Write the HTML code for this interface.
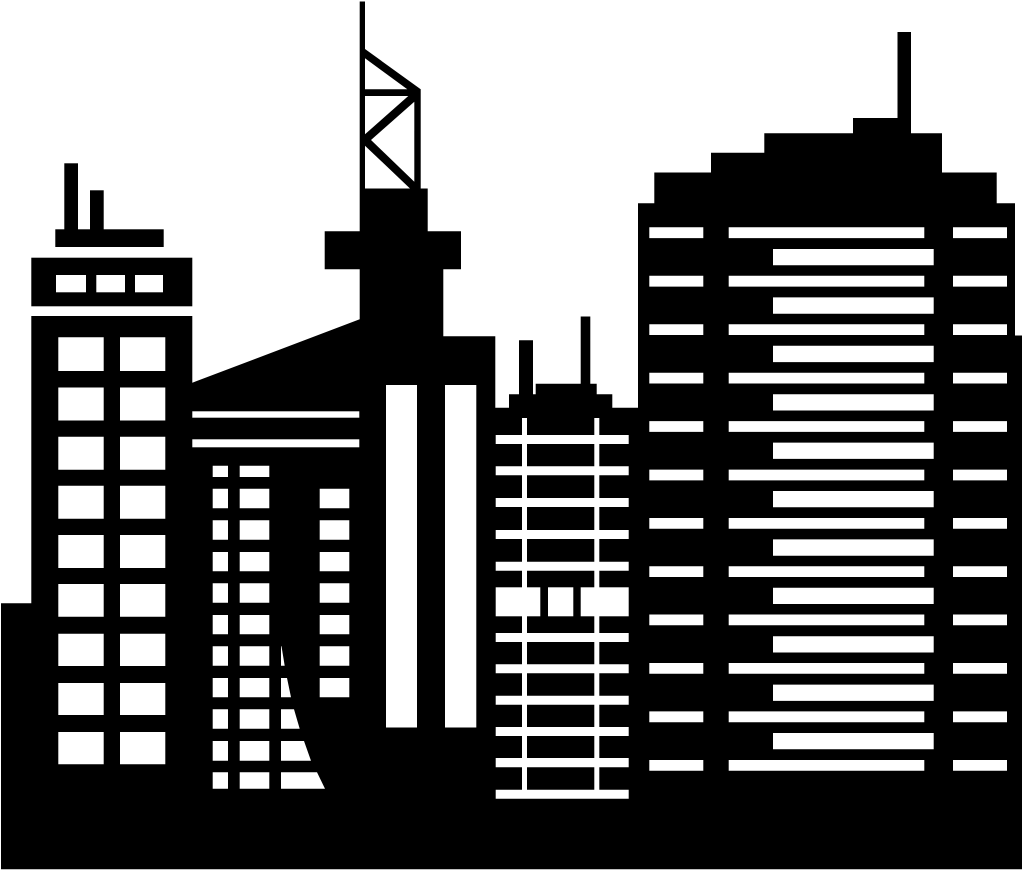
<!DOCTYPE html>
<html>
<head>
<meta charset="utf-8">
<style>
html,body{margin:0;padding:0;background:#fff}
svg{display:block}
</style>
</head>
<body>
<svg xmlns="http://www.w3.org/2000/svg" width="1022" height="870" viewBox="0 0 1022 870">
<rect width="1022" height="870" fill="#fff"/>
<!-- Silhouette -->
<path fill="#000" d="M1 869.3V603.3H31.3V316H192.3V382.7L359.7 319.3V188.5V1.5H365V49L420.7 89.3V188.5H427.7V231.3H461V269.3H443.3V336.3H495.3V407.7H509V394.3H519V340.3H533V394.3H535.7V383.7H580.7V316.5H590.3V383.7H596.7V394.3H612.3V407.7H638V203.3H654.3V172.5H711V152.7H764.3V133.3H853V118H897.5V32H911V133.3H942V172.5H996.7V203.3H1015V335.5H1022V869.3Z"/>
<path fill="#000" d="M324.7 231.3H360V269.3H324.7Z"/>
<!-- Left tower top -->
<g fill="#000">
<rect x="64.3" y="163.3" width="13.7" height="70"/>
<rect x="90" y="190.3" width="13.7" height="43"/>
<rect x="55.3" y="229.3" width="108.4" height="17.7"/>
<rect x="31.3" y="257.7" width="161" height="48.6"/>
</g>
<g fill="#fff">
<!-- Truss triangles -->
<polygon points="365,58.3 365,89.3 407.3,89.3"/>
<polygon points="365,96 408.3,96 365,134.3"/>
<polygon points="414.3,101.7 414.3,181.7 371,140"/>
<polygon points="365,145.7 365,188.5 410,188.5"/>
<!-- Left tower cap windows -->
<rect x="56" y="275" width="30" height="17.3"/>
<rect x="96.3" y="275" width="28.7" height="17.3"/>
<rect x="135" y="275" width="28" height="17.3"/>
<!-- Left tower windows -->
<path d="M58.3 337.3h45.4v33.7h-45.4zM120 337.3h45.3v33.7H120z"/>
<path d="M58.3 387.5h45.4v33h-45.4zM120 387.5h45.3v33H120z"/>
<path d="M58.3 436.7h45.4v33h-45.4zM120 436.7h45.3v33H120z"/>
<path d="M58.3 485.8h45.4v33h-45.4zM120 485.8h45.3v33H120z"/>
<path d="M58.3 535h45.4v33h-45.4zM120 535h45.3v33H120z"/>
<path d="M58.3 584h45.4v32.7h-45.4zM120 584h45.3v32.7H120z"/>
<path d="M58.3 633.7h45.4v32.3h-45.4zM120 633.7h45.3v32.3H120z"/>
<path d="M58.3 683h45.4v32h-45.4zM120 683h45.3v32H120z"/>
<path d="M58.3 732h45.4v32.3h-45.4zM120 732h45.3v32.3H120z"/>
<!-- Main building stripes and tall windows -->
<rect x="192.3" y="411.3" width="167" height="6.4"/>
<rect x="192.3" y="439.3" width="167" height="8"/>
<rect x="386" y="385" width="31" height="342.5"/>
<rect x="445" y="385" width="31.3" height="342.5"/>
<!-- Main building column 1 -->
<path d="M212.7 465.7H228V477H212.7zM212.7 488.7H228V508.3H212.7zM212.7 520.3H228V539.7H212.7zM212.7 552H228V571.3H212.7zM212.7 583.3H228V602.7H212.7zM212.7 615H228V634.3H212.7zM212.7 646.3H228V665.7H212.7zM212.7 678H228V697.3H212.7zM212.7 709.3H228V728.7H212.7zM212.7 741H228V760.7H212.7zM212.7 772.3H228V788.7H212.7z"/>
<!-- Column 2 -->
<path d="M239.7 465.7H269.3V477H239.7zM239.7 488.7H269.3V508.3H239.7zM239.7 520.3H269.3V539.7H239.7zM239.7 552H269.3V571.3H239.7zM239.7 583.3H269.3V602.7H239.7zM239.7 615H269.3V634.3H239.7zM239.7 646.3H269.3V665.7H239.7zM239.7 678H269.3V697.3H239.7zM239.7 709.3H269.3V728.7H239.7zM239.7 741H269.3V760.7H239.7zM239.7 772.3H269.3V788.7H239.7z"/>
<!-- Column 3 (curved cut) -->
<polygon points="281,646.3 281.5,646.3 284.7,665.7 281,665.7"/>
<polygon points="281,678 287,678 291,697.3 281,697.3"/>
<polygon points="281,709.3 294,709.3 299.7,728.7 281,728.7"/>
<polygon points="281,741 304,741 311,760.7 281,760.7"/>
<polygon points="281,772.3 317,772.3 325,788.7 281,788.7"/>
<!-- Column 4 -->
<path d="M319.7 488.7H349.3V508.3H319.7zM319.7 520.3H349.3V539.7H319.7zM319.7 552H349.3V571.3H319.7zM319.7 583.3H349.3V602.7H319.7zM319.7 615H349.3V634.3H319.7zM319.7 646.3H349.3V665.7H319.7zM319.7 678H349.3V697.3H319.7z"/>
<!-- Middle tower grid -->
<rect x="522" y="418" width="5" height="372"/>
<rect x="594.3" y="418" width="5" height="372"/>
<path d="M495.7 435H628.7V444H495.7zM495.7 466.3H628.7V475.3H495.7zM495.7 498H628.7V507H495.7zM495.7 530H628.7V539H495.7zM495.7 561.7H628.7V570.7H495.7zM495.7 633H628.7V642H495.7zM495.7 664.3H628.7V673.3H495.7zM495.7 695.7H628.7V704.7H495.7zM495.7 727H628.7V736H495.7zM495.7 758H628.7V767.3H495.7zM495.7 789.7H628.7V798.7H495.7z"/>
<rect x="495.7" y="587.3" width="44.6" height="29"/>
<rect x="548" y="587.3" width="25.3" height="29"/>
<rect x="580.7" y="587.3" width="48" height="29"/>
<!-- Right tower bars -->
<path d="M649.3 227.3h54v10.8h-54zM728.7 227.3h195.6v10.8H728.7zM953 227.3h54v10.8h-54z"/>
<path d="M649.3 275.8h54v10.8h-54zM728.7 275.8h195.6v10.8H728.7zM953 275.8h54v10.8h-54z"/>
<path d="M649.3 324.2h54v10.8h-54zM728.7 324.2h195.6v10.8H728.7zM953 324.2h54v10.8h-54z"/>
<path d="M649.3 372.7h54v10.8h-54zM728.7 372.7h195.6v10.8H728.7zM953 372.7h54v10.8h-54z"/>
<path d="M649.3 421.1h54v10.8h-54zM728.7 421.1h195.6v10.8H728.7zM953 421.1h54v10.8h-54z"/>
<path d="M649.3 469.6h54v10.8h-54zM728.7 469.6h195.6v10.8H728.7zM953 469.6h54v10.8h-54z"/>
<path d="M649.3 518h54v10.8h-54zM728.7 518h195.6v10.8H728.7zM953 518h54v10.8h-54z"/>
<path d="M649.3 566.2h54v10.8h-54zM728.7 566.2h195.6v10.8H728.7zM953 566.2h54v10.8h-54z"/>
<path d="M649.3 614.5h54v10.8h-54zM728.7 614.5h195.6v10.8H728.7zM953 614.5h54v10.8h-54z"/>
<path d="M649.3 663h54v10.8h-54zM728.7 663h195.6v10.8H728.7zM953 663h54v10.8h-54z"/>
<path d="M649.3 711.4h54v10.8h-54zM728.7 711.4h195.6v10.8H728.7zM953 711.4h54v10.8h-54z"/>
<path d="M649.3 760h54v10.8h-54zM728.7 760h195.6v10.8H728.7zM953 760h54v10.8h-54z"/>
<path d="M773 249h160.7v16.3H773zM773 297.4h160.7v16.3H773zM773 345.8h160.7v16.3H773zM773 394.2h160.7v16.3H773zM773 442.6h160.7v16.3H773zM773 491h160.7v16.3H773zM773 539.4h160.7v16.3H773zM773 587.7h160.7v16.3H773zM773 636.2h160.7v16.3H773zM773 684.6h160.7v16.3H773zM773 733h160.7v16.3H773z"/>
</g>
</svg>
</body>
</html>
